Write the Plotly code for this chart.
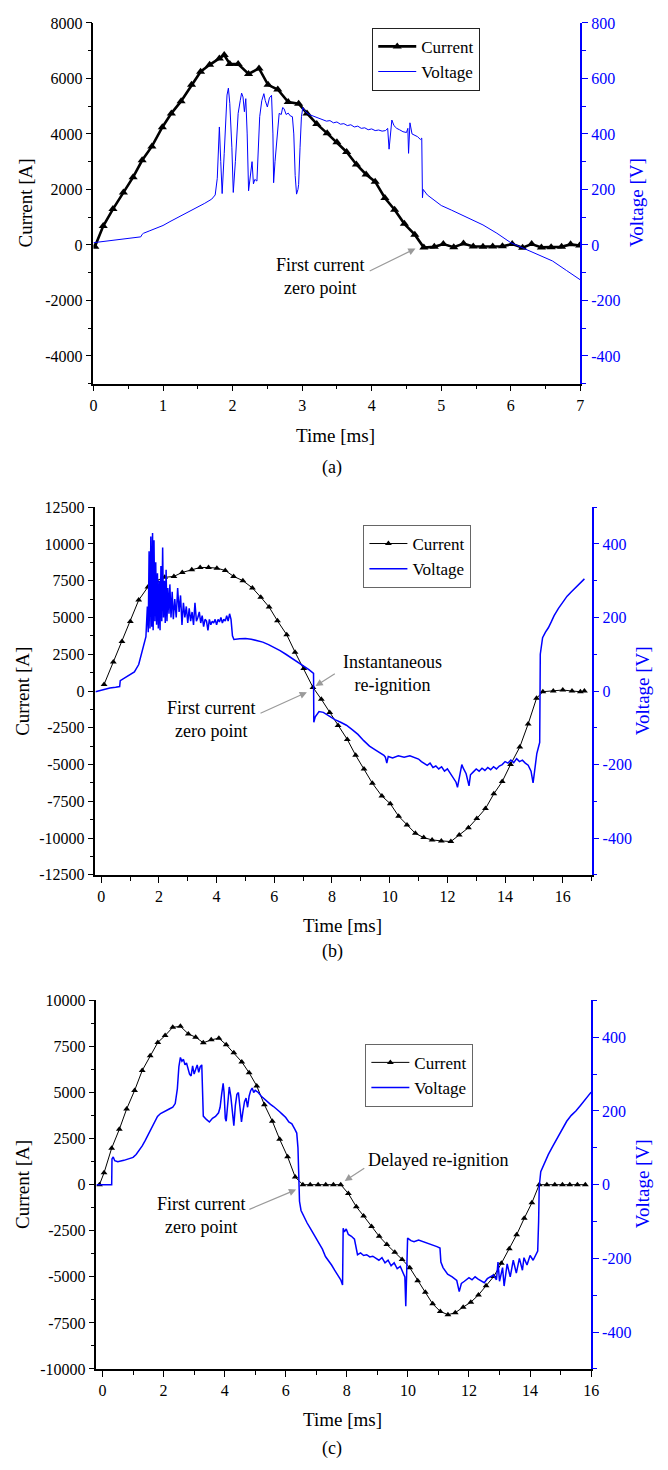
import plotly.graph_objects as go

FONT = "Liberation Serif, Times New Roman, Tinos, DejaVu Serif, serif"
PAGE_W, PAGE_H = 668, 1470
BODY = 8  # default page margin around the plot div
W, H = PAGE_W - 2 * BODY, PAGE_H - 2 * BODY

# ---------------- Panel (a) ----------------
a_cur_t = [0.02, 0.14, 0.28, 0.43, 0.57, 0.70, 0.84, 0.99, 1.12, 1.26, 1.41, 1.54, 1.67, 1.81, 1.88,
           1.96, 2.08, 2.23, 2.38, 2.51, 2.65, 2.80, 2.95, 3.07, 3.21, 3.36, 3.50, 3.64, 3.78, 3.92,
           4.05, 4.19, 4.33, 4.47, 4.62, 4.75, 4.90, 5.03, 5.18, 5.32, 5.46, 5.60, 5.74, 5.88, 6.02,
           6.17, 6.30, 6.44, 6.58, 6.73, 6.86, 6.99]
a_cur_i = [-70, 680, 1290, 1890, 2440, 3050, 3550, 4240, 4740, 5180, 5770, 6240, 6490, 6720, 6840,
           6520, 6520, 6160, 6360, 5770, 5600, 5150, 5090, 4740, 4360, 4020, 3700, 3350, 2900, 2540,
           2280, 1690, 1270, 760, 370, -95, -70, 30, -80, 50, -60, -70, -60, -50, 30,
           -100, 30, -90, -80, -70, 20, -20]

a_volt_t = [0, 0.1, 0.2, 0.3, 0.4, 0.5, 0.6, 0.68, 0.7, 0.72, 0.8, 0.9, 1.0, 1.1, 1.2, 1.3, 1.4, 1.5,
            1.6, 1.7, 1.75,
            1.78, 1.81, 1.83, 1.85, 1.88, 1.92, 1.94, 1.96, 1.99, 2.01, 2.04, 2.08, 2.11, 2.13, 2.15,
            2.17, 2.19, 2.21, 2.23, 2.26, 2.28, 2.30, 2.32, 2.35, 2.37, 2.39, 2.42, 2.45, 2.47, 2.50,
            2.53, 2.56, 2.58, 2.59, 2.61, 2.63, 2.65, 2.67, 2.70, 2.72, 2.74, 2.77, 2.80, 2.83, 2.86,
            2.88, 2.90, 2.92, 2.94, 2.95, 2.97, 2.99, 3.01, 3.03,
            3.05, 3.1, 3.15, 3.2, 3.25, 3.3, 3.35, 3.4, 3.45, 3.5, 3.55, 3.6, 3.65, 3.7, 3.75, 3.8,
            3.85, 3.9, 3.95, 4.0, 4.05, 4.1, 4.15, 4.2, 4.23, 4.25, 4.27, 4.29, 4.32, 4.36, 4.4, 4.45,
            4.5, 4.52, 4.53, 4.55, 4.58, 4.62, 4.66, 4.7, 4.72, 4.73, 4.74, 4.8, 4.9, 5.0, 5.15, 5.3,
            5.45, 5.6, 5.8, 6.0, 6.2, 6.4, 6.6, 6.8, 7.0]
a_volt_v = [8, 11, 14, 17, 20, 23, 26, 29, 38, 42, 50, 60, 70, 84, 97, 110, 122, 135,
            150, 165, 180,
            240, 425, 300, 185, 330, 540, 565, 510, 350, 189, 300, 474, 520, 547, 533,
            480, 527, 400, 195, 260, 300, 220, 236, 230, 350, 462, 520, 545, 520, 497,
            530, 539, 400, 224, 300, 355, 440, 474, 470, 495, 491, 470, 475, 465, 462,
            400, 250, 183, 200, 218, 350, 462, 495, 485,
            480, 470, 465, 462, 455, 452, 446, 448, 440, 443, 435, 437, 430, 433, 425, 428,
            420, 422, 415, 418, 412, 414, 410, 412, 420, 345, 400, 450, 430, 420, 415, 408,
            405, 420, 330, 440, 400, 395, 390, 380, 385, 170, 200, 180, 160, 142, 125, 107,
            90, 72, 42, 8, -14, -36, -58, -92, -126]

a_x_ticks = [0, 1, 2, 3, 4, 5, 6, 7]
a_x_labels = ["0", "1", "2", "3", "4", "5", "6", "7"]
a_y_ticks = [-4000, -2000, 0, 2000, 4000, 6000, 8000]
a_y_labels = ["-4000", "-2000", "0", "2000", "4000", "6000", "8000"]
a_y2_ticks = [-400, -200, 0, 200, 400, 600, 800]
a_y2_labels = ["-400", "-200", "0", "200", "400", "600", "800"]

# ---------------- Panel (b) ----------------
b_cur_t = [0.10, 0.42, 0.72, 1.01, 1.30, 1.62, 1.91, 2.20, 2.52, 2.81, 3.14, 3.43, 3.72, 4.01, 4.30,
           4.59, 4.91, 5.24, 5.53, 5.82, 6.11, 6.43, 6.72, 7.02, 7.34, 7.63, 7.92, 8.21, 8.53, 8.82,
           9.11, 9.40, 9.73, 10.02, 10.31, 10.60, 10.89, 11.18, 11.47, 11.79, 12.12, 12.41, 12.73,
           13.02, 13.32, 13.61, 13.90, 14.19, 14.51, 14.80, 15.09, 15.31, 15.67, 16.00, 16.32,
           16.61, 16.75]
b_cur_i = [448, 1971, 3360, 4726, 6182, 7078, 7504, 7728, 7795, 8064, 8243, 8400, 8400, 8355, 8198,
           7795, 7504, 7011, 6384, 5712, 4771, 3830, 2643, 1523, 246, -560, -1456, -2352, -3293, -4368,
           -5309, -6272, -7146, -7661, -8512, -9117, -9677, -9968, -10125, -10192, -10237, -9789, -9296,
           -8669, -7997, -6989, -6160, -4995, -3808, -2240, -493, -45, 0, 67, 0,
           -45, 0]

b_volt_t = [-0.2, 0.0, 0.1, 0.3, 0.5, 0.64, 0.66, 0.8, 1.0, 1.15, 1.3, 1.4, 1.5, 1.55, 1.6, 1.63,
            1.66, 1.69, 1.72, 1.75, 1.78, 1.8, 1.83, 1.86, 1.89, 1.92, 1.95, 1.98, 2.01, 2.04, 2.07,
            2.1, 2.13, 2.16, 2.19, 2.22, 2.25, 2.28, 2.31, 2.35, 2.38, 2.42, 2.46, 2.5, 2.55, 2.6,
            2.65, 2.7, 2.75, 2.8, 2.85, 2.9, 2.95, 3.0, 3.05, 3.1, 3.15, 3.2, 3.25, 3.3, 3.35, 3.4,
            3.45, 3.5, 3.55, 3.6, 3.65, 3.7, 3.75, 3.8, 3.85, 3.9, 3.95, 4.0, 4.05, 4.1, 4.15, 4.2,
            4.25, 4.3, 4.35, 4.4, 4.45, 4.5, 4.55, 4.6, 4.8, 5.0, 5.2, 5.4, 5.6, 5.8, 6.0, 6.2, 6.4,
            6.6, 6.8, 7.0, 7.2, 7.36, 7.37, 7.42, 7.55, 7.7, 7.9, 8.1, 8.3, 8.5, 8.7, 8.9, 9.1, 9.3,
            9.5, 9.6, 9.7, 9.8, 9.85, 9.9, 9.95, 10.1, 10.3, 10.5, 10.7, 10.9, 11.0, 11.1, 11.2, 11.3,
            11.4, 11.5, 11.6, 11.7, 11.8, 11.9, 12.0, 12.1, 12.2, 12.3, 12.35, 12.4, 12.45, 12.5,
            12.55, 12.65, 12.75, 12.8, 12.9, 13.0, 13.1, 13.2, 13.3, 13.4, 13.5, 13.6, 13.7, 13.8,
            13.9, 14.0, 14.1, 14.2, 14.3, 14.4, 14.5, 14.6, 14.7, 14.8, 14.9, 14.97, 15.0, 15.05,
            15.1, 15.15, 15.2, 15.22, 15.3, 15.4, 15.5, 15.6, 15.7, 15.85, 16.0, 16.15, 16.3, 16.45,
            16.6, 16.75]
b_volt_v = [-2, 2, 6, 8, 10, 12, 28, 35, 43, 52, 72, 100, 130, 148, 230, 160,
            380, 170, 420, 175, 430, 165, 410, 190, 350, 180, 320, 170, 300, 165, 340,
            190, 390, 200, 300, 185, 330, 190, 280, 210, 290, 200, 270, 195, 250, 200,
            280, 215, 260, 180, 240, 200, 230, 185, 225, 190, 215, 180, 240, 190, 200, 215,
            185, 205, 175, 195, 190, 165, 195, 180, 190, 185, 195, 180, 195, 188, 200, 185,
            195, 190, 205, 190, 210, 195, 150, 140, 142, 143, 141, 138, 133, 126, 119, 110, 100,
            90, 80, 70, 58, 48, -85, -70, -56, -58, -68, -78, -85, -93, -105, -118, -135, -150,
            -160, -165, -172, -175, -180, -196, -178, -182, -176, -180, -176, -182, -185, -192, -198, -202,
            -196, -208, -204, -212, -206, -218, -212, -225, -235, -248, -262, -240, -218, -200,
            -210, -225, -258, -228, -220, -212, -218, -210, -216, -208, -214, -206, -212, -204,
            -200, -192, -196, -188, -195, -184, -192, -188, -196, -202, -218, -250, -232, -200,
            -170, -155, -140, 100, 145, 160, 172, 188, 205, 225, 243, 258, 270, 282,
            293, 305]

b_x_ticks = [0, 2, 4, 6, 8, 10, 12, 14, 16]
b_x_labels = ["0", "2", "4", "6", "8", "10", "12", "14", "16"]
b_y_ticks = [-12500, -10000, -7500, -5000, -2500, 0, 2500, 5000, 7500, 10000, 12500]
b_y_labels = ["-12500", "-10000", "-7500", "-5000", "-2500", "0", "2500", "5000", "7500",
              "10000", "12500"]
b_y2_ticks = [-400, -200, 0, 200, 400]
b_y2_labels = ["-400", "-200", "0", "200", "400"]

# ---------------- Panel (c) ----------------
c_cur_t = [-0.1, 0.05, 0.30, 0.55, 0.79, 1.05, 1.30, 1.56, 1.81, 2.05, 2.30, 2.55, 2.81, 3.05, 3.30,
           3.56, 3.81, 4.05, 4.30, 4.56, 4.80, 5.05, 5.30, 5.56, 5.80, 6.06, 6.31, 6.56, 6.80, 7.06,
           7.31, 7.56, 7.80, 8.05, 8.31, 8.55, 8.81, 9.06, 9.31, 9.57, 9.81, 10.06, 10.32, 10.57,
           10.81, 11.06, 11.31, 11.55, 11.81, 12.06, 12.31, 12.56, 12.81, 13.06, 13.32, 13.56,
           13.81, 14.06, 14.30, 14.55, 14.81, 15.06, 15.30, 15.55, 15.81]
c_cur_i = [0, 643, 1982, 3000, 4108, 5108, 6197, 7001, 7716, 8091, 8537, 8591, 8180, 8001, 7698,
           7858, 7948, 7591, 7162, 6662, 6072, 5358, 4340, 3447, 2465, 1518, 411, 0, 0, 0,
           0, 0, 0, -482, -1197, -1697, -2268, -2804, -3251, -3661, -4054, -4501, -5215, -5840,
           -6465, -6876, -7055, -6947, -6644, -6376, -5983, -5483, -4983, -4269, -3483, -2715,
           -1822, -982, 0, 0, 0, 0, 0, 0, 0]

c_volt_t = [-0.2, 0.3, 0.31, 0.35, 0.4, 0.5, 0.7, 0.9, 1.0, 1.1, 1.2, 1.3, 1.4, 1.5, 1.6, 1.7, 1.8,
            1.9, 2.0, 2.1, 2.2, 2.3, 2.38, 2.45, 2.5, 2.55, 2.6, 2.65, 2.7, 2.75, 2.8, 2.85, 2.9,
            2.95, 3.0, 3.05, 3.1, 3.15, 3.2, 3.25, 3.28, 3.3, 3.4, 3.5, 3.6, 3.7, 3.8, 3.85, 3.9,
            3.95, 3.98, 4.02, 4.05, 4.1, 4.15, 4.2, 4.25, 4.3, 4.35, 4.4, 4.45, 4.5, 4.55, 4.6, 4.65,
            4.7, 4.75, 4.8, 4.85, 4.9, 4.95, 5.0, 5.1, 5.2, 5.3, 5.4, 5.5, 5.6, 5.7, 5.8, 5.9, 6.0,
            6.1, 6.2, 6.3, 6.36, 6.4, 6.42, 6.45, 6.5, 6.6, 6.7, 6.8, 6.9, 7.0, 7.1, 7.2, 7.3, 7.4,
            7.5, 7.6, 7.7, 7.8, 7.86, 7.88, 7.92, 7.98, 8.05, 8.15, 8.25, 8.3, 8.35, 8.45, 8.55,
            8.65, 8.75, 8.85, 8.95, 9.05, 9.15, 9.25, 9.35, 9.45, 9.55, 9.65, 9.75, 9.85, 9.9, 9.93,
            9.96, 9.99, 10.1, 10.2, 10.35, 10.5, 10.65, 10.8, 10.95, 11.05, 11.08, 11.15, 11.3,
            11.45, 11.6, 11.68, 11.75, 11.85, 12.0, 12.1, 12.2, 12.3, 12.4, 12.5, 12.6, 12.7, 12.8,
            12.9, 12.95, 13.0, 13.1, 13.15, 13.25, 13.35, 13.45, 13.55, 13.65, 13.75, 13.8, 13.9,
            14.0, 14.1, 14.2, 14.25, 14.28, 14.3, 14.35, 14.45, 14.6, 14.75, 14.9, 15.05, 15.2,
            15.35, 15.5, 15.65, 15.8, 16.0]
c_volt_v = [0, 0, 70, 75, 65, 62, 66, 70, 74, 82, 92, 105, 120, 137, 155, 172, 185,
            193, 198, 202, 206, 210, 220, 260, 320, 345, 335, 340, 325, 330, 310, 300, 295,
            322, 300, 310, 325, 305, 320, 325, 250, 186, 177, 170, 180, 185, 195, 210, 245,
            275, 250, 180, 172, 230, 265, 240, 200, 160, 215, 245, 250, 210, 170, 200, 225,
            235, 210, 240, 255, 262, 250, 256, 250, 240, 232, 225, 218, 212, 206, 198, 190, 182,
            170, 165, 150, 140, 100, 40, -45, -70, -88, -104, -118, -132, -148, -160, -175, -195, -205,
            -218, -232, -245, -258, -272, -118, -128, -120, -135, -140, -148, -168, -190, -185, -192,
            -190, -196, -194, -200, -205, -198, -212, -205, -220, -212, -228, -222, -238, -250, -330,
            -250, -145, -152, -155, -150, -154, -158, -163, -168, -172, -210, -225, -243,
            -250, -260, -290, -268, -262, -252, -258, -250, -256, -262, -266, -255, -250, -245,
            -258, -210, -262, -225, -275, -215, -250, -205, -240, -200, -232, -198, -218,
            -192, -205, -189, -180, -100, -5, 35, 55, 82, 105, 128, 150, 172,
            188, 200, 215, 230, 251]

c_x_ticks = [0, 2, 4, 6, 8, 10, 12, 14, 16]
c_x_labels = ["0", "2", "4", "6", "8", "10", "12", "14", "16"]
c_y_ticks = [-10000, -7500, -5000, -2500, 0, 2500, 5000, 7500, 10000]
c_y_labels = ["-10000", "-7500", "-5000", "-2500", "0", "2500", "5000", "7500", "10000"]
c_y2_ticks = [-400, -200, 0, 200, 400]
c_y2_labels = ["-400", "-200", "0", "200", "400"]

# ---------------- Axes settings ----------------
a_xrange, a_yrange, a_y2range = [0, 7], [-5000, 8000], [-500, 800]
b_xrange, b_yrange, b_y2range = [-0.2, 17], [-12500, 12500], [-500, 500]
c_xrange, c_yrange, c_y2range = [-0.2, 16], [-10000, 10000], [-500, 500]


def px_x(px):
    # page pixel -> paper fraction of the figure (figure sits inside the page margin)
    return (px - BODY) / W


def px_y(py):
    return 1 - (py - BODY) / H


fig = go.Figure()

BLUE = "#0000FF"

# panel a
fig.add_trace(go.Scatter(x=a_cur_t, y=a_cur_i, mode="lines+markers", name="Current",
                         line=dict(color="black", width=2.6),
                         marker=dict(symbol="triangle-up", size=8, color="black"),
                         xaxis="x", yaxis="y", legend="legend"))
fig.add_trace(go.Scatter(x=a_volt_t, y=a_volt_v, mode="lines", name="Voltage",
                         line=dict(color=BLUE, width=1),
                         xaxis="x", yaxis="y2", legend="legend"))
# panel b
fig.add_trace(go.Scatter(x=b_cur_t, y=b_cur_i, mode="lines+markers", name="Current",
                         line=dict(color="black", width=1),
                         marker=dict(symbol="triangle-up", size=6, color="black"),
                         xaxis="x2", yaxis="y3", legend="legend2"))
fig.add_trace(go.Scatter(x=b_volt_t, y=b_volt_v, mode="lines", name="Voltage",
                         line=dict(color=BLUE, width=1.5),
                         xaxis="x2", yaxis="y4", legend="legend2"))
# panel c
fig.add_trace(go.Scatter(x=c_cur_t, y=c_cur_i, mode="lines+markers", name="Current",
                         line=dict(color="black", width=1),
                         marker=dict(symbol="triangle-up", size=6, color="black"),
                         xaxis="x3", yaxis="y5", legend="legend3"))
fig.add_trace(go.Scatter(x=c_volt_t, y=c_volt_v, mode="lines", name="Voltage",
                         line=dict(color=BLUE, width=1.5),
                         xaxis="x3", yaxis="y6", legend="legend3"))

tickfont = dict(family=FONT, size=16, color="black")
tickfont_b = dict(family=FONT, size=16, color=BLUE)


def xax(domain, rng, tv, tt, minor, anchor):
    return dict(domain=domain, range=rng, tickmode="array", tickvals=tv, ticktext=tt,
                showgrid=False, zeroline=False,
                showline=True, linecolor="black", linewidth=1.5, ticks="outside", ticklen=6,
                tickwidth=1.3, tickcolor="black", tickfont=tickfont, anchor=anchor,
                minor=dict(ticks="outside", ticklen=4, dtick=minor, tick0=0, tickcolor="black",
                           tickwidth=1.3, showgrid=False))


def yax(domain, rng, tv, tt, minor, anchor):
    return dict(domain=domain, range=rng, tickmode="array", tickvals=tv, ticktext=tt,
                showgrid=False, zeroline=False,
                showline=True, linecolor="black", linewidth=1.5, ticks="outside", ticklen=6,
                tickwidth=1.3, tickcolor="black", tickfont=tickfont, anchor=anchor, side="left",
                minor=dict(ticks="outside", ticklen=4, dtick=minor, tick0=0, tickcolor="black",
                           tickwidth=1.3, showgrid=False))


def y2ax(rng, tv, tt, minor, anchor, overlay):
    return dict(range=rng, tickmode="array", tickvals=tv, ticktext=tt,
                showgrid=False, zeroline=False,
                showline=True, linecolor=BLUE, linewidth=1.5, ticks="outside", ticklen=6,
                tickwidth=1.3, tickcolor=BLUE, tickfont=tickfont_b, anchor=anchor, side="right",
                overlaying=overlay,
                minor=dict(ticks="outside", ticklen=4, dtick=minor, tick0=0, tickcolor=BLUE,
                           tickwidth=1.3, showgrid=False))


a_xdom = [px_x(91), px_x(587)]
a_ydom = [px_y(380), px_y(15)]
b_xdom = [px_x(93), px_x(598.5)]
b_ydom = [px_y(877), px_y(505)]
c_xdom = [px_x(94), px_x(598)]
c_ydom = [px_y(1377), px_y(1004)]

legend_style = dict(font=dict(family=FONT, size=17, color="black"), bgcolor="white",
                    borderwidth=1, xanchor="left", yanchor="top", itemwidth=38,
                    tracegroupgap=0)

fig.update_layout(
    width=W, height=H, margin=dict(l=0, r=0, t=0, b=0),
    plot_bgcolor="white", paper_bgcolor="white",
    font=dict(family=FONT, size=16, color="black"),
    xaxis=xax(a_xdom, a_xrange, a_x_ticks, a_x_labels, 0.5, "y"),
    yaxis=yax(a_ydom, a_yrange, a_y_ticks, a_y_labels, 1000, "x"),
    yaxis2=y2ax(a_y2range, a_y2_ticks, a_y2_labels, 100, "x", "y"),
    xaxis2=xax(b_xdom, b_xrange, b_x_ticks, b_x_labels, 1, "y3"),
    yaxis3=yax(b_ydom, b_yrange, b_y_ticks, b_y_labels, 1250, "x2"),
    yaxis4=y2ax(b_y2range, b_y2_ticks, b_y2_labels, 100, "x2", "y3"),
    xaxis3=xax(c_xdom, c_xrange, c_x_ticks, c_x_labels, 1, "y5"),
    yaxis5=yax(c_ydom, c_yrange, c_y_ticks, c_y_labels, 1250, "x3"),
    yaxis6=y2ax(c_y2range, c_y2_ticks, c_y2_labels, 100, "x3", "y5"),
    legend=dict(x=px_x(375), y=px_y(20), bordercolor="#222", **legend_style),
    legend2=dict(x=px_x(366), y=px_y(523), bordercolor="#666", **legend_style),
    legend3=dict(x=px_x(368), y=px_y(1048), bordercolor="#666", **legend_style),
    showlegend=True,
)

ann = []


def txt(text, x, y, size=19, color="black", angle=0):
    ann.append(dict(text=text, x=px_x(x), y=px_y(y), xref="paper", yref="paper",
                    showarrow=False, textangle=angle, xanchor="center", yanchor="middle",
                    font=dict(family=FONT, size=size, color=color)))


# axis titles and panel captions
txt("Current [A]", 22, 197, angle=-90)
txt("Voltage [V]", 645, 197, color=BLUE, angle=-90)
txt("Time [ms]", 338, 432)
txt("(a)", 334, 465, size=18)
txt("Current [A]", 18, 691, angle=-90)
txt("Voltage [V]", 650, 691, color=BLUE, angle=-90)
txt("Time [ms]", 345, 928)
txt("(b)", 335, 955, size=18)
txt("Current [A]", 18, 1190, angle=-90)
txt("Voltage [V]", 650, 1190, color=BLUE, angle=-90)
txt("Time [ms]", 345, 1428)
txt("(c)", 334, 1457, size=18)


def note(text, x, y, xr, yr):
    ann.append(dict(text=text, x=x, y=y, xref=xr, yref=yr, showarrow=False,
                    xanchor="center", yanchor="middle", align="center",
                    font=dict(family=FONT, size=18, color="black")))


def arrow(tx, ty, hx, hy, xr, yr):
    ann.append(dict(text="", x=hx, y=hy, ax=tx, ay=ty, xref=xr, yref=yr, axref=xr, ayref=yr,
                    showarrow=True, arrowhead=2, arrowsize=1.2, arrowwidth=1.2,
                    arrowcolor="#9a9a9a"))


# panel a annotations
note("First current<br>zero point", 3.25, -1130, "x", "y")
arrow(3.95, -965, 4.63, -132, "x", "y")
# panel b annotations
note("Instantaneous<br>re-ignition", 10.11, 1186, "x2", "y3")
arrow(8.15, 1233, 7.43, 335, "x2", "y3")
note("First current<br>zero point", 3.80, -1964, "x2", "y3")
arrow(5.47, -1562, 7.13, -87, "x2", "y3")
# panel c annotations
note("Delayed re-ignition", 11.0, 1337, "x3", "y5")
arrow(8.62, 947, 7.93, 198, "x3", "y5")
note("First current<br>zero point", 3.21, -1685, "x3", "y5")
arrow(4.76, -1374, 6.34, -267, "x3", "y5")

fig.update_layout(annotations=ann)

fig.write_html("out.html")
